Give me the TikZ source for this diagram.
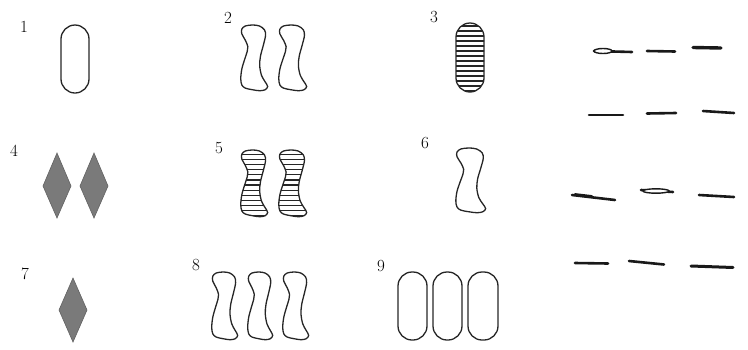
\documentclass[tikz,border=0pt]{standalone}
\tikzset{
  outl/.style={line width=1.3pt, draw=black!85},
  stripe/.style={line width=1.2pt, draw=black!85},
  diam/.style={fill=black!52, draw=black!62, line width=0.6pt},
  lbl/.style={font=\fontsize{17}{17}\selectfont, inner sep=0pt},
  penstroke/.style={line width=2.6pt, line cap=round, draw=black!90},
  penloop/.style={line width=1.4pt, draw=black!90, fill=white}
}
\newcommand\squigshape[5]{%
  \begin{scope}[shift={(#1,#2)}, xscale=#3/26, yscale=#4/69]
    \ifnum#5=1
      \begin{scope}
        \clip plot[smooth cycle, tension=0.55] coordinates {(1.7,4.3) (5,1) (11.7,0) (18,1) (22.7,5) (23.7,11) (21.7,21) (19,32.7) (18.3,42.7) (20,52.7) (23.3,59.3) (25.7,64.3) (23.3,67.7) (18.3,68.7) (11.7,67.7) (5,66) (1.7,62.7) (0.7,56) (1.7,46) (4.3,36) (6.7,27.7) (7.3,22.7) (5,16) (1.7,9.3)};
        \foreach \k in {1,...,13} \draw[stripe] (-2,\k*5.3-1) -- (30,\k*5.3-1);
      \end{scope}
    \fi
    \draw[outl] plot[smooth cycle, tension=0.55] coordinates {(1.7,4.3) (5,1) (11.7,0) (18,1) (22.7,5) (23.7,11) (21.7,21) (19,32.7) (18.3,42.7) (20,52.7) (23.3,59.3) (25.7,64.3) (23.3,67.7) (18.3,68.7) (11.7,67.7) (5,66) (1.7,62.7) (0.7,56) (1.7,46) (4.3,36) (6.7,27.7) (7.3,22.7) (5,16) (1.7,9.3)};
  \end{scope}}
\newcommand\stadshape[5]{%
  \ifnum#5=1
    \begin{scope}
      \clip[rounded corners=14pt] (#1,#2) rectangle (#3,#4);
      \foreach \yy in {26,31,...,91} \draw[stripe, line width=1.6pt] (#1-2,\yy) -- (#3+2,\yy);
    \end{scope}
  \fi
  \draw[outl, rounded corners=14pt] (#1,#2) rectangle (#3,#4);}
\begin{document}
\begin{tikzpicture}[x=1pt, y=-1pt]
  \useasboundingbox (0,0) rectangle (748,349);
  % labels
  \node[lbl] (l1) at (24,27) {1};
  \node[lbl] (l2) at (228,18) {2};
  \node[lbl] (l3) at (434,17) {3};
  \node[lbl] (l4) at (14,151) {4};
  \node[lbl] (l5) at (219,148) {5};
  \node[lbl] (l6) at (425,143) {6};
  \node[lbl] (l7) at (25,274) {7};
  \node[lbl] (l8) at (196,265) {8};
  \node[lbl] (l9) at (381,266) {9};
  % 1
  \stadshape{61}{25}{89}{93}{0}
  % 2
  \squigshape{240}{25}{28}{66}{0}
  \squigshape{278}{25}{29}{66}{0}
  % 3
  \stadshape{456}{23}{484}{92}{1}
  % 4
  \draw[diam] (57,153) -- (71,186) -- (57,218) -- (43,186) -- cycle;
  \draw[diam] (94,153) -- (108,186) -- (94,218) -- (80,186) -- cycle;
  % 5
  \squigshape{240}{150}{28}{67}{1}
  \squigshape{278}{150}{29}{67}{1}
  % 6
  \squigshape{455}{148}{31}{65}{0}
  % 7
  \draw[diam] (73,278) -- (87,310) -- (73,342) -- (59,310) -- cycle;
  % 8
  \squigshape{211}{272}{27}{68}{0}
  \squigshape{247}{272}{26}{68}{0}
  \squigshape{282}{272}{27}{68}{0}
  % 9
  \draw[outl, rounded corners=14pt] (398,272) rectangle (427,340);
  \draw[outl, rounded corners=14pt] (433,272) rectangle (462,340);
  \draw[outl, rounded corners=14pt] (468,272) rectangle (498,340);
  % right-hand strokes
  \draw[penstroke] (594,51) -- (632,52);
  \draw[penloop] (603,51) ellipse (9pt and 2.5pt);
  \draw[penstroke] (647,51) -- (675,51.5);
  \draw[penstroke, line width=3.4pt] (693,47.5) -- (721,48);
  \draw[penstroke] (589,115) -- (623,115);
  \draw[penstroke] (647,113.5) -- (676,113);
  \draw[penstroke] (703,111) -- (734,113);
  \draw[penstroke] (572,195) -- (615,200);
  \draw[penstroke, line width=1.8pt] (575,194) -- (592,196);
  \draw[penstroke] (641,190) -- (673,192);
  \draw[penloop] (656,191) ellipse (13pt and 2.2pt);
  \draw[penstroke] (699,195) -- (734,197);
  \draw[penstroke] (575,263) -- (608,263.5);
  \draw[penstroke] (629,261) -- (664,264.5);
  \draw[penstroke, line width=3pt] (691,266) -- (733,267.5);
\end{tikzpicture}
\end{document}
